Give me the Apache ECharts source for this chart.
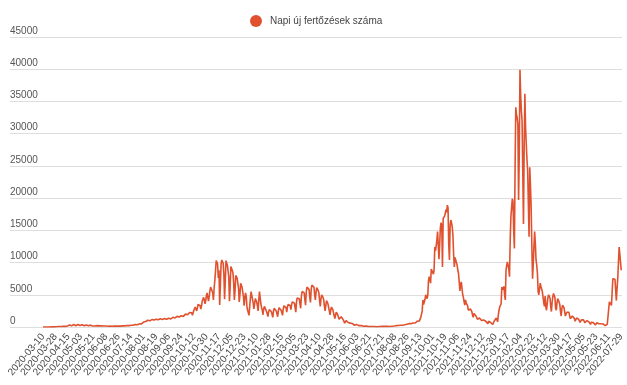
<!DOCTYPE html>
<html>
<head>
<meta charset="utf-8">
<script src="https://cdn.jsdelivr.net/npm/echarts@6/dist/echarts.min.js"></script>
<style>html,body{margin:0;padding:0;background:#fff}#c{width:627px;height:385px}</style>
</head>
<body>
<div id="c"></div>
<script>
const seriesName = 'Napi új fertőzések száma';

const tickLabels = [
'2020-03-10','2020-03-28','2020-04-15','2020-05-03','2020-05-21','2020-06-08','2020-06-26','2020-07-14',
'2020-08-01','2020-08-19','2020-09-06','2020-09-24','2020-10-12','2020-10-30','2020-11-17','2020-12-05',
'2020-12-23','2021-01-10','2021-01-28','2021-02-15','2021-03-05','2021-03-23','2021-04-10','2021-04-28',
'2021-05-16','2021-06-03','2021-06-21','2021-07-21','2021-08-08','2021-08-26','2021-09-13','2021-10-01',
'2021-10-19','2021-11-06','2021-11-24','2021-12-12','2021-12-30','2022-01-17','2022-02-04','2022-02-22',
'2022-03-12','2022-03-30','2022-04-17','2022-05-05','2022-05-23','2022-06-11','2022-07-29'
];

const yTicks = [0,5000,10000,15000,20000,25000,30000,35000,40000,45000];

// daily values, one row per 18 reporting days (between consecutive tick labels)
const cases = [
3,1,3,4,6,2,4,11,11,8,7,18,18,20,17,12,16,34,
43,39,45,55,78,85,60,53,84,74,92,120,210,150,100,110,120,160,
220,260,300,350,280,180,240,330,380,400,320,200,260,340,380,350,300,230,
260,340,360,330,280,190,240,300,320,290,250,180,210,270,290,260,220,160,
200,240,230,180,140,170,210,220,200,170,130,150,190,200,180,150,110,140,
160,170,150,120,90,110,140,150,140,120,90,110,140,160,150,130,100,120,
150,170,160,140,110,140,180,200,190,170,140,170,220,250,240,210,180,220,
280,320,310,270,230,300,380,420,400,360,300,380,480,560,540,480,420,520,
760,880,920,850,700,860,1040,1120,1080,980,820,960,1150,1250,1200,1080,900,1040,
1200,1300,1260,1120,940,1080,1280,1350,1300,1180,980,1100,1300,1380,1340,1200,1000,1150,
1350,1450,1400,1250,1050,1250,1500,1600,1550,1400,1150,1350,1650,1750,1700,1550,1300,1500,
1750,1900,1850,1650,1400,1650,2000,2150,2100,1900,1600,1850,2250,2450,2400,2200,1800,2100,
2600,2900,3100,3000,2500,2900,3500,3800,3700,3300,2800,3300,4000,4300,4600,4200,3600,4100,
4900,5300,4600,4000,4700,5600,6200,6500,6000,5300,4200,5900,7200,8600,10300,10400,9800,7600,
8800,3400,6500,9800,10400,10200,9900,8200,4300,7000,10300,10000,9600,9300,7800,4000,6200,9400,
9200,8800,8400,6900,4200,5600,8000,7800,7600,7300,6000,3900,5000,6800,6600,6200,5900,4700,
3300,4500,5300,4800,3200,2600,2300,1800,3200,4500,5500,5200,4300,3700,2800,3600,4400,4200,
3900,3300,2500,4200,5500,4500,3600,3000,2600,1900,2800,3200,3000,2700,2400,2100,1600,2300,
2700,2800,2600,2400,2100,1500,2400,2900,2800,2700,2500,2300,1600,2500,3000,2900,2800,2600,
2400,1800,2800,3300,3300,3200,3000,2300,3100,3500,3600,3500,3300,2700,3500,3900,4000,3900,
3700,3000,2300,3900,4500,4700,4600,4400,3600,2900,4800,5500,5700,5600,5300,4200,3400,5500,
6200,6300,6100,5800,4600,3800,5800,6500,6800,6600,6200,5000,4200,5400,6100,6000,5700,5300,
4200,3200,4300,5000,4900,4600,4200,3200,2500,3400,4100,3900,3600,3300,2500,1900,2600,3100,
2900,2700,2400,1700,1300,1900,2300,2100,1900,1700,1200,900,1300,1600,1500,1300,1100,800,
600,900,1000,900,800,700,500,400,600,700,600,550,450,320,260,400,450,400,
350,300,220,170,250,260,230,200,160,110,90,150,160,140,120,100,70,60,
90,100,80,70,60,50,70,80,70,60,50,60,70,80,70,60,80,90,
90,80,100,110,90,70,100,120,110,100,80,110,130,140,120,100,130,150,
170,200,220,200,180,230,260,290,270,250,220,280,330,360,340,300,360,420,
430,480,520,470,400,520,600,650,620,560,470,620,750,850,900,820,720,950,
1200,1500,1800,2500,4200,3500,3200,4300,5000,5200,4400,4900,7200,7800,7600,6800,9000,9100,
9100,8200,8800,12400,11800,12600,13500,14800,15000,10500,12800,15400,16200,15800,9300,16800,16500,17200,
17600,18200,17800,18900,18500,12800,10400,15800,16600,16200,15500,14200,11200,9300,10800,11100,10500,9600,
8800,8300,7000,5600,6600,7000,6000,5000,4600,3900,3400,4200,3700,3500,3300,2600,2300,2900,
2800,2600,2400,1900,1500,2100,2000,1800,1700,1500,1200,1000,1500,1400,1300,1200,1000,800,
700,1100,1000,950,900,800,600,500,900,850,800,700,600,450,400,700,900,1000,
1200,1400,1100,800,1900,2600,3100,2900,3600,6200,6000,5800,6300,5000,4200,8800,9600,10100,
10000,9000,7800,13500,17100,18500,19900,19500,15000,12200,25000,34100,33000,32500,31500,19700,27000,39900,
36000,33500,32000,24000,16000,28000,36200,31000,28400,26000,24300,19100,14000,24800,22000,18600,12500,7500,
9800,12500,14800,13000,10400,9600,8300,5500,5000,4700,6800,6300,5900,5500,5200,3800,3200,4800,
3100,2600,3600,4600,5000,4800,4500,3200,2400,3800,4700,5200,5000,4600,3000,2600,3700,4400,
4200,3900,3500,2400,1700,2900,3400,3200,3000,2700,1700,1400,2300,2600,2500,2300,2100,1300,
1000,1200,1700,1600,1500,1300,900,800,1400,1500,1400,1200,1100,700,600,1100,1300,1200,
1100,1000,650,550,900,1000,950,850,750,500,400,750,800,750,680,600,380,320,
600,650,600,560,500,300,260,500,550,500,470,420,260,220,420,460,420,380,
350,3900,4100,4000,3350,5500,7500,7400,7500,7400,7200,4100,6000,7500,10000,12400,11300,10000,
8800
];

// category dates: 18 reporting days between consecutive tick labels
function parseD(s){const p=s.split('-');return Date.UTC(+p[0],+p[1]-1,+p[2]);}
function fmtD(t){const d=new Date(t);return d.getUTCFullYear()+'-'+String(d.getUTCMonth()+1).padStart(2,'0')+'-'+String(d.getUTCDate()).padStart(2,'0');}
const categories = [];
for (let k = 0; k < tickLabels.length - 1; k++) {
  const a = parseD(tickLabels[k]), b = parseD(tickLabels[k+1]);
  const span = Math.round((b - a) / 86400000);
  for (let j = 0; j < 18; j++) {
    categories.push(j === 0 ? tickLabels[k] : fmtD(a + Math.round(j * span / 18) * 86400000));
  }
}
categories.push(tickLabels[tickLabels.length - 1]);
const labelEvery = 18;

const lineColor = '#E0522F';
const font = '"Liberation Sans", Arial, sans-serif';

const chart = echarts.init(document.getElementById('c'));
chart.setOption({
  animation: false,
  legend: {
    top: 10, left: 245, icon: 'circle', itemWidth: 12, itemHeight: 12,
    textStyle: {fontFamily: font, fontSize: 10, color: '#444', padding: [0,0,0,3]},
    data: [seriesName]
  },
  grid: [
    {left: 10, right: 5, top: 37, bottom: 58},
    {left: 43, right: 5, top: 37, bottom: 58}
  ],
  xAxis: [
    {gridIndex: 0, type: 'value', show: false, min: 0, max: 1},
    {gridIndex: 1, type: 'category', data: categories, boundaryGap: false,
     axisLine: {show: false}, axisTick: {show: false},
     axisLabel: {interval: 0, rotate: 50, fontSize: 10, color: '#444', margin: 8, fontFamily: font,
                 hideOverlap: false,
                 formatter: function (v, i) { return i % labelEvery === 0 ? v : ''; }}}
  ],
  yAxis: [
    {gridIndex: 0, type: 'value', min: yTicks[0], max: yTicks[yTicks.length-1], interval: yTicks[1]-yTicks[0],
     axisLine: {show: false}, axisTick: {show: false},
     splitLine: {lineStyle: {color: '#dedede', width: 1}},
     axisLabel: {inside: true, verticalAlign: 'bottom', margin: 0, padding: [0,0,1,0], fontSize: 10, color: '#555', fontFamily: font,
                 formatter: function (v) { return String(v); }}},
    {gridIndex: 1, type: 'value', min: yTicks[0], max: yTicks[yTicks.length-1], interval: yTicks[1]-yTicks[0], show: false}
  ],
  series: [{
    name: seriesName, type: 'line', xAxisIndex: 1, yAxisIndex: 1,
    data: cases, showSymbol: false, symbol: 'circle',
    lineStyle: {width: 1.6, color: lineColor}, itemStyle: {color: lineColor}
  }]
});
</script>
</body>
</html>
